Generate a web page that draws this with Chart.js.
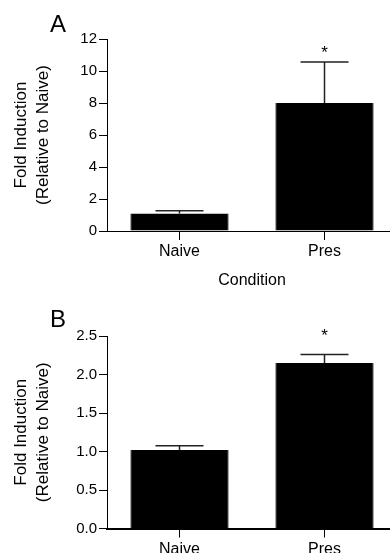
<!DOCTYPE html>
<html>
<head>
<meta charset="utf-8">
<title>Fold Induction</title>
<script src="https://cdn.jsdelivr.net/npm/chart.js@4.4.1/dist/chart.umd.min.js"></script>
<style>
  html, body { margin: 0; padding: 0; background: #fff; overflow: hidden; }
  body { width: 390px; height: 553px; position: relative; }
  canvas { position: absolute; left: 0; }
  .letter { position: absolute; font-family: 'Liberation Sans', Arial, sans-serif; font-size: 24px; line-height: 24px; color: #000; }
</style>
</head>
<body>
<canvas id="chartA" width="400" height="300" style="top:0"></canvas>
<canvas id="chartB" width="400" height="253" style="top:300px"></canvas>
<div class="letter" style="left:50px; top:12px">A</div>
<div class="letter" style="left:50px; top:307px">B</div>
<script>
// Data
const categories = ['Naive', 'Pres'];

const foldA = [1.1, 8.0];
const errA = [0.17, 2.56];
const sigA = ['', '*'];
const yTicksA = [0, 2, 4, 6, 8, 10, 12];

const foldB = [1.02, 2.15];
const errB = [0.055, 0.11];
const sigB = ['', '*'];
const yTicksB = [0, 0.5, 1.0, 1.5, 2.0, 2.5];

const FONT = "'Liberation Sans', Arial, sans-serif";
Chart.defaults.font.family = FONT;
Chart.defaults.color = '#000';

// Draws the upper error bars and significance marks
const errorBarPlugin = {
  id: 'errorBars',
  afterDatasetsDraw(chart, args, opts) {
    const ctx = chart.ctx;
    const meta = chart.getDatasetMeta(0);
    const yScale = chart.scales.y;
    const values = chart.data.datasets[0].data;
    ctx.save();
    meta.data.forEach((bar, i) => {
      const top = yScale.getPixelForValue(values[i] + opts.errors[i]);
      ctx.strokeStyle = '#222';
      ctx.lineWidth = 1.5;
      ctx.beginPath();
      ctx.moveTo(bar.x, bar.y);
      ctx.lineTo(bar.x, top);
      ctx.moveTo(bar.x - opts.capWidth / 2, top);
      ctx.lineTo(bar.x + opts.capWidth / 2, top);
      ctx.stroke();
      if (opts.marks[i]) {
        ctx.fillStyle = '#000';
        ctx.font = '17px ' + FONT;
        ctx.textAlign = 'center';
        ctx.textBaseline = 'alphabetic';
        ctx.fillText(opts.marks[i], bar.x, top - opts.markGap);
      }
    });
    ctx.restore();
  }
};

function makeChart(id, values, errors, marks, yTicks, cfg) {
  const ctx = document.getElementById(id).getContext('2d');
  return new Chart(ctx, {
    type: 'bar',
    data: {
      labels: categories,
      datasets: [{
        data: values,
        backgroundColor: '#000',
        borderColor: '#777',
        borderWidth: { left: 1, right: 1, top: 0, bottom: 0 },
        barPercentage: 0.68,
        categoryPercentage: 1.0
      }]
    },
    options: {
      responsive: false,
      animation: false,
      layout: { padding: { top: cfg.padTop, right: 3, bottom: 0, left: 0 } },
      plugins: {
        legend: { display: false },
        tooltip: { enabled: false },
        errorBars: { errors, marks, capWidth: 48, markGap: cfg.markGap }
      },
      scales: {
        x: {
          offset: true,
          grid: { display: true, offset: false, drawOnChartArea: false, drawTicks: true, tickLength: 9, color: '#000' },
          border: { display: true, color: '#000', width: cfg.xBorder },
          ticks: { color: '#000', font: { size: 16 }, padding: 2, maxRotation: 0 },
          title: {
            display: !!cfg.xTitle,
            text: cfg.xTitle || '',
            color: '#000',
            font: { size: 16 },
            padding: { top: 0, bottom: 10 }
          },
          afterFit(scale) { scale.height = cfg.xHeight; }
        },
        y: {
          min: yTicks[0],
          max: yTicks[yTicks.length - 1],
          afterBuildTicks(scale) { scale.ticks = yTicks.map(v => ({ value: v })); },
          grid: { display: true, drawOnChartArea: false, drawTicks: true, tickLength: 8, color: '#000' },
          border: { display: true, color: '#000', width: 1 },
          ticks: {
            color: '#000',
            font: { size: 15 },
            padding: 2,
            callback: v => cfg.decimals ? Number(v).toFixed(cfg.decimals) : v
          },
          title: {
            display: true,
            text: ['Fold Induction', '(Relative to Naive)'],
            color: '#000',
            font: { size: 17, lineHeight: 1.3 },
            padding: { top: 10, bottom: 0 }
          },
          afterFit(scale) { scale.width = 107; }
        }
      }
    },
    plugins: [errorBarPlugin]
  });
}

makeChart('chartA', foldA, errA, sigA, yTicksA, {
  padTop: 39, xHeight: 69, xBorder: 1, xTitle: 'Condition', decimals: 0, markGap: 4
});
makeChart('chartB', foldB, errB, sigB, yTicksB, {
  padTop: 36, xHeight: 24.5, xBorder: 2, xTitle: '', decimals: 1, markGap: 13
});
</script>
</body>
</html>
